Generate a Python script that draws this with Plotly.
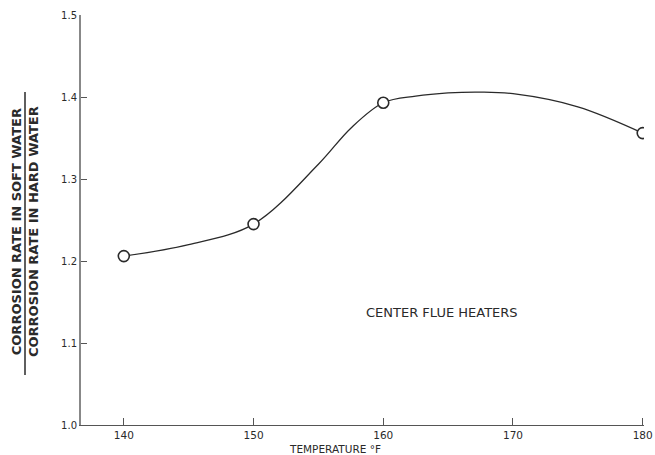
import plotly.graph_objects as go

# Measured data points (open circles)
temp_f = [140, 150, 160, 180]
ratio = [1.206, 1.245, 1.393, 1.356]

# Hand-drawn smooth curve
curve_temp = [140, 145, 150, 155, 157.5, 160, 162.5, 165, 167.5, 170, 175, 180]
curve_ratio = [1.206, 1.22, 1.245, 1.318, 1.362, 1.393, 1.401, 1.405, 1.406, 1.404, 1.388, 1.356]

x_ticks = [140, 150, 160, 170, 180]
y_ticks = [1.0, 1.1, 1.2, 1.3, 1.4, 1.5]
y_tick_labels = ["1.0", "1.1", "1.2", "1.3", "1.4", "1.5"]

ink = "#2a2a2a"
font_family = "DejaVu Sans, Arial, sans-serif"

L, R, T, B = 81, 11, 15, 30
PW = 655 - L - R
PH = 455 - T - B


def px_x(p):
    return (p - L) / PW


def px_y(p):
    return (455 - B - p) / PH


fig = go.Figure()
fig.add_trace(go.Scatter(
    x=curve_temp, y=curve_ratio, mode="lines",
    line=dict(color=ink, width=1.3, shape="spline", smoothing=1.0),
    hoverinfo="skip", showlegend=False,
))
fig.add_trace(go.Scatter(
    x=temp_f, y=ratio, mode="markers",
    marker=dict(symbol="circle", size=11, color="white", line=dict(color=ink, width=1.6)),
    showlegend=False,
))

fig.update_layout(
    width=655, height=455,
    margin=dict(l=L, r=R, t=T, b=B, autoexpand=False),
    paper_bgcolor="white", plot_bgcolor="white",
    font=dict(family=font_family, size=10, color=ink),
    xaxis=dict(
        range=[136.7, 180.1], tickvals=x_ticks, ticktext=[str(v) for v in x_ticks],
        showgrid=False, zeroline=False, showline=True, linecolor="#555", linewidth=1.3,
        ticks="inside", ticklen=7, tickcolor="#555", tickfont=dict(size=10.5, color=ink),
        automargin=False,
    ),
    yaxis=dict(
        range=[1.0, 1.5], tickvals=y_ticks, ticktext=y_tick_labels,
        showgrid=False, zeroline=False, showline=True, linecolor="#888", linewidth=2,
        ticks="inside", ticklen=6, tickcolor="#555", tickfont=dict(size=10, color=ink),
        automargin=False,
    ),
    annotations=[
        dict(text="CENTER FLUE HEATERS", x=164.5, y=1.137, xref="x", yref="y",
             showarrow=False, font=dict(size=13, color=ink)),
        dict(text="TEMPERATURE °F", x=px_x(335), y=px_y(448.5),
             xref="paper", yref="paper", showarrow=False, yanchor="middle",
             font=dict(size=10.5, color=ink)),
        dict(text="<b>CORROSION RATE IN SOFT WATER</b><br><b>CORROSION RATE IN HARD WATER</b>",
             x=px_x(25), y=px_y(232), xref="paper", yref="paper",
             textangle=-90, showarrow=False, xanchor="center", yanchor="middle",
             font=dict(size=13, color=ink)),
    ],
    shapes=[
        dict(type="line", xref="paper", yref="paper",
             x0=px_x(25), x1=px_x(25), y0=px_y(375), y1=px_y(92),
             line=dict(color=ink, width=1.5)),
    ],
)

fig.write_html("out.html", config={"displayModeBar": False},
               post_script="document.body.style.margin='0px';")
